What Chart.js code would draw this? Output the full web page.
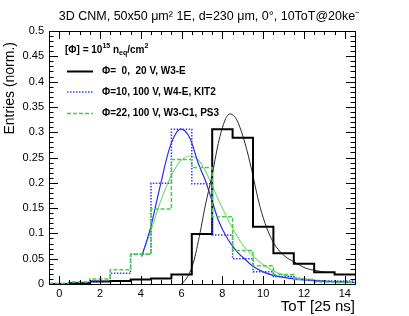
<!DOCTYPE html>
<html><head><meta charset="utf-8">
<script src="https://cdn.jsdelivr.net/npm/chart.js@4"></script>
<style>html,body{margin:0;padding:0;background:#fff}</style>
</head><body>
<canvas id="c" width="409" height="316" style="display:block"></canvas>
<script>
// ---- data ----
const chartTitle = '3D CNM, 50x50 \u03bcm\u00b2 1E, d=230 \u03bcm, 0\u00b0, 10ToT@20ke\u207b';
const xAxisTitle = 'ToT [25 ns]';
const yAxisTitle = 'Entries (norm.)';
const binCenters = [0,1,2,3,4,5,6,7,8,9,10,11,12,13,14];
const blackHist = [0.000,0.002,0.005,0.006,0.009,0.011,0.019,0.099,0.306,0.289,0.113,0.061,0.040,0.023,0.019];
const blueHist  = [0.001,0.003,0.006,0.021,0.059,0.199,0.306,0.198,0.097,0.050,0.024,0.015,0.009,0.006,0.006];
const greenHist = [0.001,0.004,0.010,0.028,0.059,0.148,0.246,0.230,0.133,0.066,0.036,0.019,0.009,0.004,0.003];
const blackFitX = [6.0,6.3,6.57,6.9,7.15,7.48,7.8,8.13,8.37,8.6,8.78,9.11,9.44,9.76,10.09,10.5,11.0,11.5,12.1,12.8,13.2];
const blackFitY = [0.000,0.015,0.041,0.100,0.153,0.212,0.278,0.324,0.336,0.331,0.318,0.278,0.225,0.166,0.120,0.082,0.057,0.044,0.031,0.025,0.022];
const blueFitX  = [4.04,4.45,4.94,5.43,5.96,6.41,6.82,7.15,7.48,7.8,8.29,8.78,9.0,9.5,10,10.5,11,12,13,14.5];
const blueFitY  = [0.054,0.107,0.192,0.271,0.306,0.288,0.238,0.206,0.166,0.126,0.087,0.061,0.053,0.035,0.024,0.017,0.013,0.008,0.005,0.003];
const greenFitX = [4.04,4.45,4.94,5.43,5.92,6.41,6.82,7.15,7.48,7.96,8.46,8.95,9.5,10,10.5,11,12,13,14.5];
const greenFitY = [0.057,0.100,0.160,0.209,0.242,0.253,0.245,0.225,0.196,0.153,0.113,0.080,0.055,0.038,0.026,0.018,0.010,0.006,0.003];
const seriesLabels = ['\u03a6=  0,  20 V, W3-E', '\u03a6=10, 100 V, W4-E, KIT2', '\u03a6=22, 100 V, W3-C1, PS3'];
const xTickValues = [0,2,4,6,8,10,12,14];
const xTickLabels = ['0','2','4','6','8','10','12','14'];
const yTickValues = [0,0.05,0.1,0.15,0.2,0.25,0.3,0.35,0.4,0.45,0.5];
const yTickLabels = ['0','0.05','0.1','0.15','0.2','0.25','0.3','0.35','0.4','0.45','0.5'];

const FONT = "'Liberation Sans', Arial, Helvetica, sans-serif";

function histPoints(vals){
  const pts = binCenters.map((c,i)=>({x:c-0.5, y:vals[i]}));
  pts.push({x:binCenters[binCenters.length-1]+0.5, y:vals[vals.length-1]});
  return pts;
}
function curvePoints(xs, ys){ return xs.map((x,i)=>({x, y:ys[i]})); }

const COL_BLACK = '#000000', COL_BLUE = '#3a3aff', COL_GREEN = '#3ed23e';
const COL_BLUEFIT = '#2b2bff', COL_GREENFIT = '#7ddc7d', COL_BLACKFIT = '#2a2a2a';

const histStyle = [
  {color:COL_BLACK, width:2, dash:[]},
  {color:COL_BLUE, width:1.5, dash:[1.5,1.5]},
  {color:COL_GREEN, width:1.5, dash:[4,2]}
];

const datasets = [
  {label:seriesLabels[2], data:histPoints(greenHist), borderColor:histStyle[2].color, borderWidth:histStyle[2].width, borderDash:histStyle[2].dash, stepped:'before', pointRadius:0},
  {label:seriesLabels[1], data:histPoints(blueHist), borderColor:histStyle[1].color, borderWidth:histStyle[1].width, borderDash:histStyle[1].dash, stepped:'before', pointRadius:0},
  {label:seriesLabels[0], data:histPoints(blackHist), borderColor:histStyle[0].color, borderWidth:histStyle[0].width, borderDash:histStyle[0].dash, stepped:'before', pointRadius:0},
  {label:'fit0', data:curvePoints(blackFitX,blackFitY), borderColor:COL_BLACKFIT, borderWidth:1, cubicInterpolationMode:'monotone', pointRadius:0},
  {label:'fit1', data:curvePoints(blueFitX,blueFitY), borderColor:COL_BLUEFIT, borderWidth:1.2, cubicInterpolationMode:'monotone', pointRadius:0},
  {label:'fit2', data:curvePoints(greenFitX,greenFitY), borderColor:COL_GREENFIT, borderWidth:1.2, cubicInterpolationMode:'monotone', pointRadius:0}
];

const rootFrame = {
  id:'rootFrame',
  afterDatasetsDraw(chart){
    const {ctx, chartArea:a, scales:{x, y}} = chart;
    ctx.save();
    ctx.strokeStyle = '#000'; ctx.lineWidth = 1; ctx.setLineDash([]);
    ctx.beginPath();
    for (let k=0;k<=50;k++){
      const v = k*0.01; const py = Math.round(y.getPixelForValue(v))+0.5;
      const len = (k%5===0)?9:4.5;
      ctx.moveTo(a.left, py); ctx.lineTo(a.left+len, py);
      ctx.moveTo(a.right, py); ctx.lineTo(a.right-len, py);
    }
    for (let k=-1;k<=29;k++){
      const v = k*0.5; const px = Math.round(x.getPixelForValue(v))+0.5;
      const len = (k%4===0)?8:4;
      ctx.moveTo(px, a.bottom); ctx.lineTo(px, a.bottom-len);
      ctx.moveTo(px, a.top); ctx.lineTo(px, a.top+len);
    }
    ctx.stroke();
    ctx.strokeRect(Math.round(a.left)+0.5, Math.round(a.top)+0.5, Math.round(a.right-a.left), Math.round(a.bottom-a.top));
    ctx.restore();
  },
  afterDraw(chart){
    const ctx = chart.ctx;
    ctx.save();
    ctx.fillStyle = '#000';
    // y axis title (ROOT style, right-aligned near top)
    ctx.save();
    ctx.translate(10, 42);
    ctx.rotate(-Math.PI/2);
    ctx.font = '14px '+FONT; ctx.textAlign='right'; ctx.textBaseline='middle';
    ctx.fillText(yAxisTitle, 0, 0);
    ctx.restore();
    ctx.textBaseline = 'middle';
    // legend header
    let xx = 65, yy = 50;
    const big = 'bold 10px '+FONT, small = 'bold 7px '+FONT;
    const parts = [['[\u03a6] = 10',big,0],['15',small,-4],[' n',big,0],['eq',small,3],['/cm',big,0],['2',small,-4]];
    ctx.textAlign='left';
    for (const [t,f,dy] of parts){ ctx.font=f; ctx.fillText(t,xx,yy+dy); xx += ctx.measureText(t).width; }
    // legend rows
    const rowsY = [71.5, 92, 113.5];
    for (let i=0;i<3;i++){
      const s = histStyle[i];
      ctx.strokeStyle = s.color; ctx.lineWidth = s.width; ctx.setLineDash(s.dash);
      ctx.beginPath(); ctx.moveTo(67, rowsY[i]); ctx.lineTo(93, rowsY[i]); ctx.stroke();
      ctx.font = big; ctx.fillText(seriesLabels[i], 102, rowsY[i]);
    }
    ctx.restore();
  }
};

new Chart(document.getElementById('c'), {
  type:'line',
  data:{datasets},
  plugins:[rootFrame],
  options:{
    responsive:false, animation:false, devicePixelRatio:1,
    layout:{padding:{left:9,right:0,top:0,bottom:0}},
    plugins:{
      legend:{display:false}, tooltip:{enabled:false},
      title:{display:true, text:chartTitle, color:'#000', font:{family:FONT,size:12.5,weight:'normal'}, padding:{top:9,bottom:7}}
    },
    scales:{
      x:{type:'linear', min:-0.5, max:14.5,
        afterFit(s){ s.height = 32; },
        afterBuildTicks(s){ s.ticks = xTickValues.map(v=>({value:v})); },
        grid:{display:false, drawTicks:false}, border:{display:false},
        ticks:{color:'#000', font:{family:FONT,size:11}, padding:3, maxRotation:0, autoSkip:false,
          callback:(v,i)=>xTickLabels[i]},
        title:{display:true, text:xAxisTitle, align:'end', color:'#000', font:{family:FONT,size:15}, padding:{top:0,bottom:0}}
      },
      y:{type:'linear', min:0, max:0.5,
        afterFit(s){ s.width = 40; },
        afterBuildTicks(s){ s.ticks = yTickValues.map(v=>({value:v})); },
        grid:{display:false, drawTicks:false}, border:{display:false},
        ticks:{color:'#000', font:{family:FONT,size:11}, padding:5, autoSkip:false,
          callback:(v,i)=>yTickLabels[i]},
        title:{display:false}
      },
      yRight:{type:'linear', position:'right', min:0, max:0.5,
        afterFit(s){ s.width = 54; },
        grid:{display:false, drawTicks:false}, border:{display:false},
        ticks:{display:false}
      }
    }
  }
});
</script>
</body></html>
